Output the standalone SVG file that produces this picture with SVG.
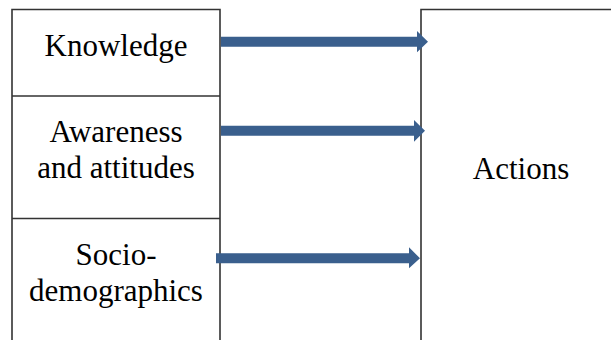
<svg xmlns="http://www.w3.org/2000/svg" width="611" height="340" viewBox="0 0 611 340">
<style>
.box{fill:#fff;stroke:#333;stroke-width:1.6}
.t{font-family:'Liberation Serif','Times New Roman',serif;font-size:31px;fill:#000;text-anchor:middle}
.arr{fill:#3a5f8d}
</style>
<rect width="611" height="340" fill="#fff"/>
<g id="node-knowledge">
<path class="box" d="M12,342 V9.5 H220 V342"/>
<text class="t" x="116" y="56">Knowledge</text>
</g>
<g id="node-awareness">
<path class="box" d="M12,96 H220"/>
<text class="t" x="116" y="142">Awareness</text>
<text class="t" x="116" y="178">and attitudes</text>
</g>
<g id="node-socio">
<path class="box" d="M12,218.5 H220"/>
<text class="t" x="116" y="265">Socio-</text>
<text class="t" x="116" y="301">demographics</text>
</g>
<g id="node-actions">
<path class="box" d="M421,342 V9.5 H613"/>
<text class="t" x="521" y="179">Actions</text>
</g>
<g id="connectors">
<polygon class="arr" points="221,36.7 417,36.7 417,31 428,41.7 417,52.3 417,46.7 221,46.7"/>
<polygon class="arr" points="221,125.7 414,125.7 414,120 425,130.7 414,141.7 414,135.7 221,135.7"/>
<polygon class="arr" points="216,253.3 409,253.3 409,247.3 420,258.3 409,268.3 409,263.3 216,263.3"/>
</g>
</svg>
